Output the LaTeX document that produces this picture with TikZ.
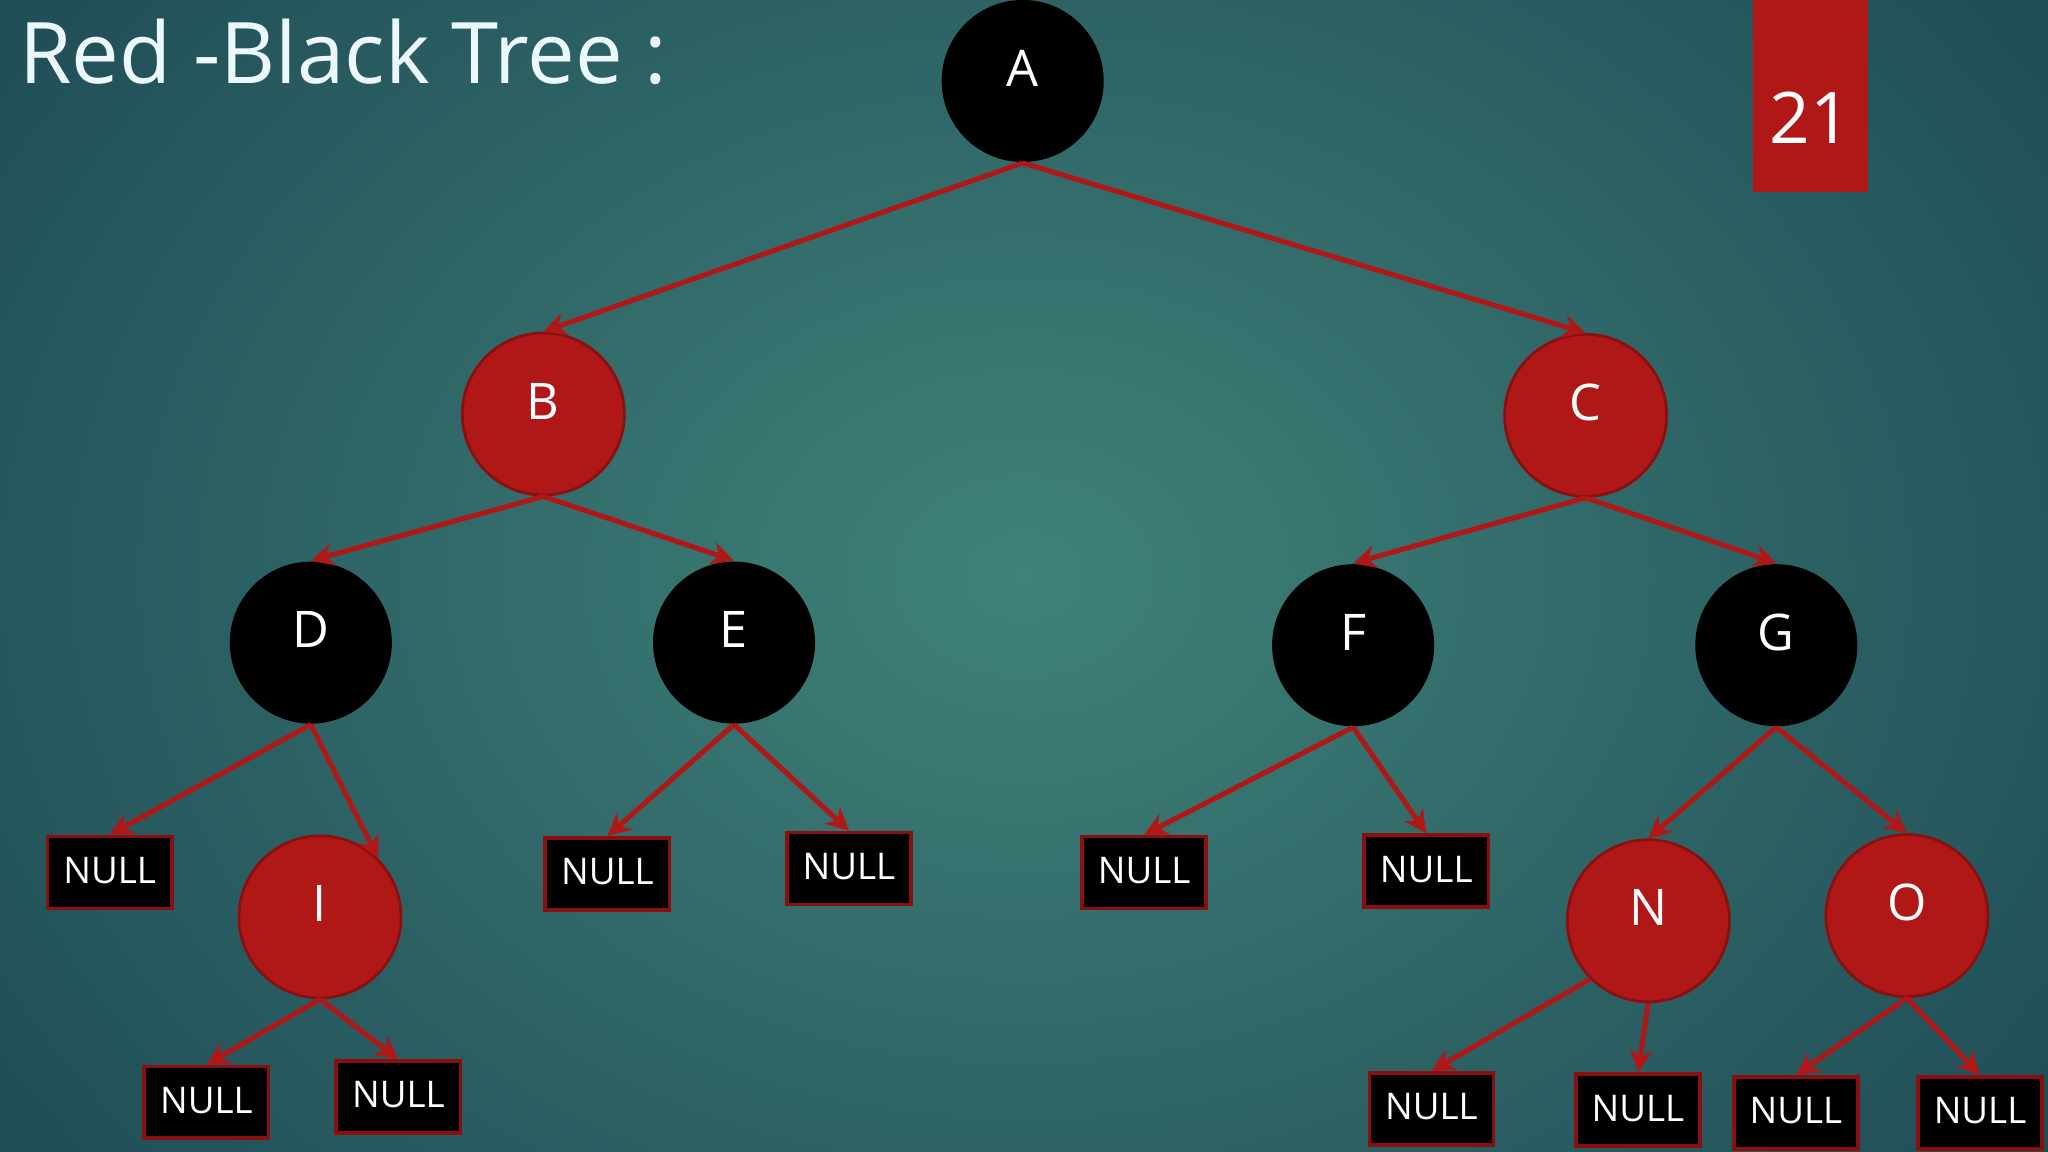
\documentclass[tikz,border=0pt]{standalone}
\usepackage{fontspec}
\setmainfont{Open Sans}
\usetikzlibrary{arrows.meta}
\definecolor{rb}{HTML}{B01818}
\definecolor{rbd}{HTML}{8A1010}
\definecolor{bgin}{HTML}{3F8279}
\definecolor{bgout}{HTML}{1C4652}
\begin{document}
\begin{tikzpicture}[x=0.01cm,y=-0.01cm,
  circ/.style={circle,minimum size=1.24cm,inner sep=0pt,text=white,font=\fontsize{11}{12}\selectfont,text depth=0pt,text height=2.2mm,label={[text=white,font=\fontsize{11}{12}\selectfont]center:{}}},
  blk/.style={circle,fill=black,minimum size=1.24cm,inner sep=0pt},
  red/.style={circle,fill=rb,draw=rbd,line width=0.6pt,minimum size=1.24cm,inner sep=0pt},
  lab/.style={text=white,font=\fontsize{11}{12}\selectfont,yshift=0.1cm},
  nul/.style={rectangle,fill=black,draw=rbd,line width=0.8pt,minimum width=0.95cm,minimum height=0.55cm,inner sep=0pt,text=white,font=\fontsize{8}{9}\selectfont},
  ed/.style={draw=rb,line width=1.1pt,-{Stealth[length=5pt,width=5pt]}}]
\useasboundingbox (0,0) rectangle (1568,882);
\shade[inner color=bgin,outer color=bgout] (-300,-400) rectangle (1868,1282);
\node[anchor=west,text=white!92!cyan,font=\fontsize{18.5}{20}\selectfont,inner sep=0pt] (title) at (14,40) {Red -Black Tree :};
\fill[rb] (1342,0) rectangle (1430,147);
\node[text=white,font=\fontsize{15.5}{17}\selectfont] (num) at (1386,90) {21};
\node[blk] (A) at (783,62) {};
\node[red] (B) at (416,317) {};
\node[red] (C) at (1214,318) {};
\node[blk] (D) at (238,492) {};
\node[blk] (E) at (562,492) {};
\node[blk] (F) at (1036,494) {};
\node[blk] (G) at (1360,494) {};
\node[red] (I) at (245,702) {};
\node[red] (N) at (1262,705) {};
\node[red] (O) at (1460,701) {};
\node[lab] (lA) at (A) {A};
\node[lab] (lB) at (B) {B};
\node[lab] (lC) at (C) {C};
\node[lab] (lD) at (D) {D};
\node[lab] (lE) at (E) {E};
\node[lab] (lF) at (F) {F};
\node[lab] (lG) at (G) {G};
\node[lab] (lI) at (I) {I};
\node[lab] (lN) at (N) {N};
\node[lab] (lO) at (O) {O};
\node[nul] (n1) at (84,668) {\raisebox{1pt}{NULL}};
\node[nul] (n2) at (158,844) {\raisebox{1pt}{NULL}};
\node[nul] (n3) at (305,840) {\raisebox{1pt}{NULL}};
\node[nul] (n4) at (465,669) {\raisebox{1pt}{NULL}};
\node[nul] (n5) at (650,665) {\raisebox{1pt}{NULL}};
\node[nul] (n6) at (876,668) {\raisebox{1pt}{NULL}};
\node[nul] (n7) at (1092,667) {\raisebox{1pt}{NULL}};
\node[nul] (n8) at (1096,849) {\raisebox{1pt}{NULL}};
\node[nul] (n9) at (1254,850) {\raisebox{1pt}{NULL}};
\node[nul] (n10) at (1375,852) {\raisebox{1pt}{NULL}};
\node[nul] (n11) at (1516,852) {\raisebox{1pt}{NULL}};
\draw[ed] (A.south) -- (B.north);
\draw[ed] (A.south) -- (C.north);
\draw[ed] (B.south) -- (D.north);
\draw[ed] (B.south) -- (E.north);
\draw[ed] (C.south) -- (F.north);
\draw[ed] (C.south) -- (G.north);
\draw[ed] (D.south) -- (n1.north);
\draw[ed] (D.south) -- (I.north east);
\draw[ed] (E.south) -- (n4.north);
\draw[ed] (E.south) -- (n5.north);
\draw[ed] (F.south) -- (n6.north);
\draw[ed] (F.south) -- (n7.north);
\draw[ed] (G.south) -- (N.north);
\draw[ed] (G.south) -- (O.north);
\draw[ed] (I.south) -- (n2.north);
\draw[ed] (I.south) -- (n3.north);
\draw[ed] (N.south west) -- (n8.north);
\draw[ed] (N.south) -- (n9.north);
\draw[ed] (O.south) -- (n10.north);
\draw[ed] (O.south) -- (n11.north);
\end{tikzpicture}
\end{document}
